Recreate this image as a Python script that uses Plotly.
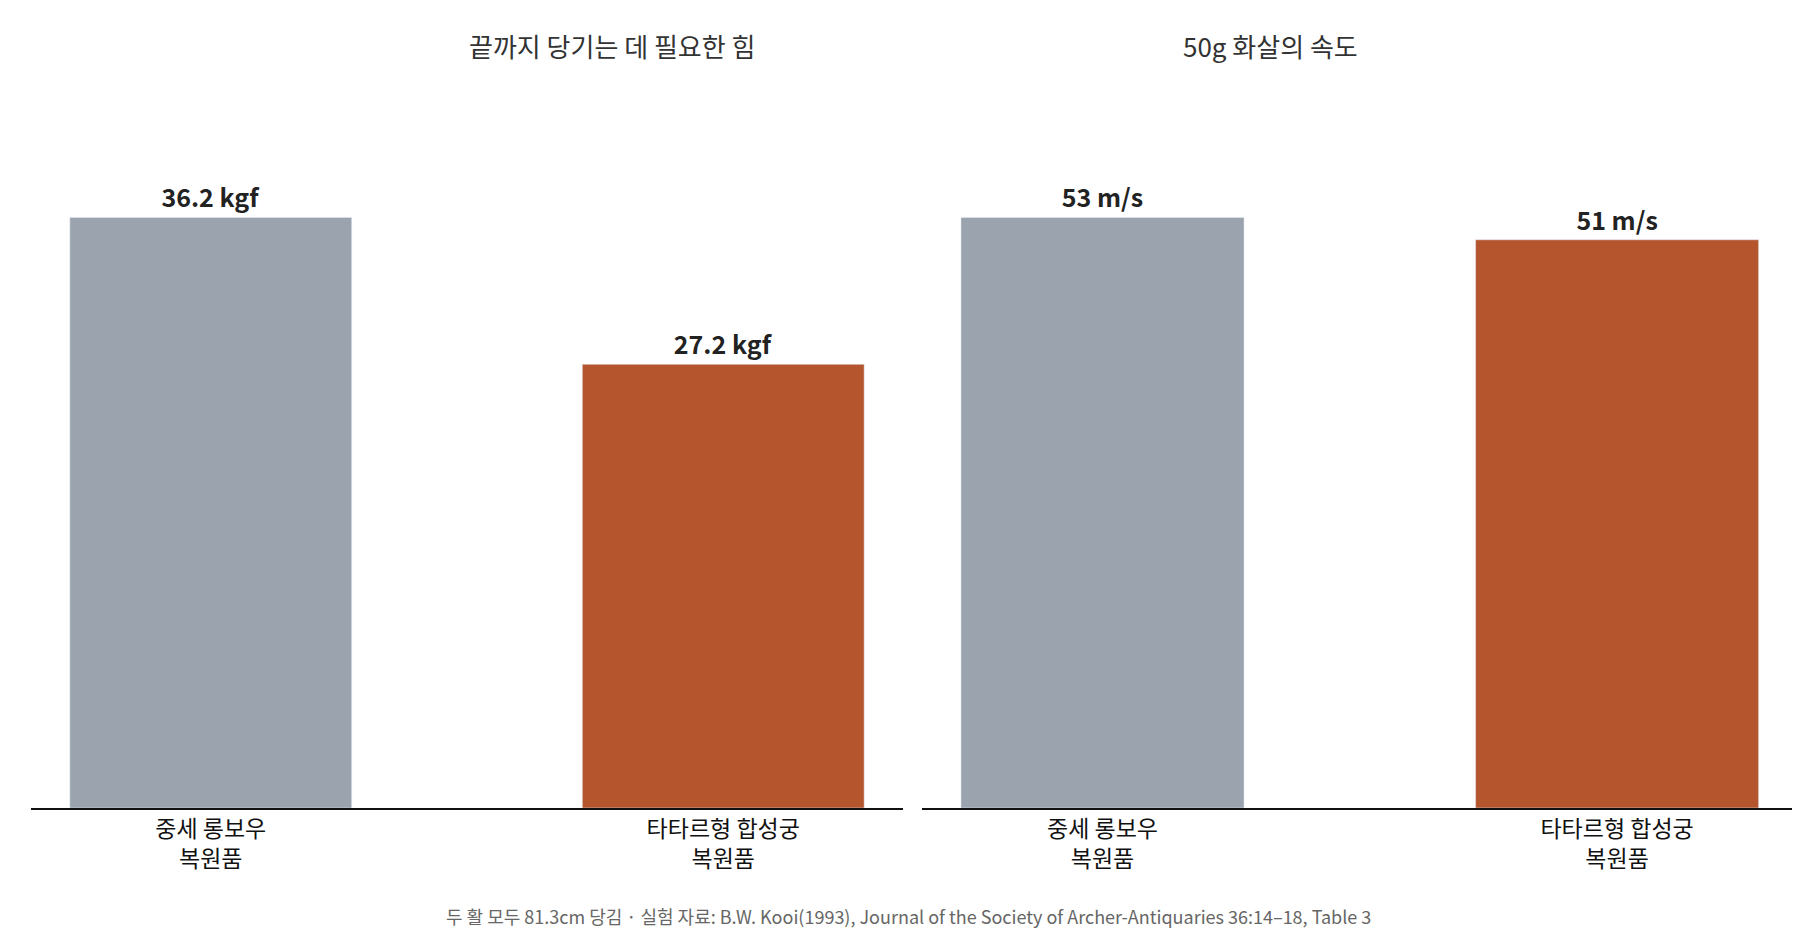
import plotly.graph_objects as go

categories = ["중세 롱보우<br>복원품", "타타르형 합성궁<br>복원품"]
draw_force = [36.2, 27.2]
arrow_speed = [53, 51]
force_labels = ["36.2 kgf", "27.2 kgf"]
speed_labels = ["53 m/s", "51 m/s"]
titles = ["끝까지 당기는 데 필요한 힘", "50g 화살의 속도"]
colors = ["#9AA3AE", "#B5552D"]
footer = "두 활 모두 81.3cm 당김 · 실험 자료: B.W. Kooi(1993), Journal of the Society of Archer-Antiquaries 36:14–18, Table 3"

font = "Noto Sans CJK KR"
fig = go.Figure()

fig.add_trace(go.Bar(x=[0, 1], y=draw_force, width=0.55, marker_color=colors,
                     text=force_labels, textposition="outside", cliponaxis=False,
                     textfont=dict(size=25, color="#222", family=font, weight="bold"),
                     xaxis="x", yaxis="y", hoverinfo="skip"))
fig.add_trace(go.Bar(x=[0, 1], y=arrow_speed, width=0.55, marker_color=colors,
                     text=speed_labels, textposition="outside", cliponaxis=False,
                     textfont=dict(size=25, color="#222", family=font, weight="bold"),
                     xaxis="x2", yaxis="y2", hoverinfo="skip"))

xcommon = dict(range=[-0.35, 1.35], tickvals=[0, 1], ticktext=categories,
               showline=True, linecolor="#111", linewidth=1.5, ticks="",
               showgrid=False, zeroline=False,
               tickfont=dict(size=23, color="#111", family=font))
ycommon = dict(visible=False, showgrid=False, zeroline=False)

fig.update_layout(
    width=1800, height=930, showlegend=False,
    plot_bgcolor="white", paper_bgcolor="white",
    margin=dict(l=0, r=0, t=115, b=130),
    font=dict(family=font),
    xaxis=dict(domain=[0.013, 0.497], **xcommon),
    xaxis2=dict(domain=[0.508, 0.994], **xcommon),
    yaxis=dict(range=[0, max(draw_force) * 1.16], anchor="x", **ycommon),
    yaxis2=dict(range=[0, max(arrow_speed) * 1.16], anchor="x2", **ycommon),
)

for t, xc in zip(titles, [0.255, 0.751]):
    fig.add_annotation(text=t, x=xc, xref="paper", y=1 + (115 - 38) / (930 - 245),
                       yref="paper", yanchor="middle", showarrow=False,
                       font=dict(size=26, color="#333", family=font))

fig.add_annotation(text=footer, x=0.5, xref="paper", y=-(908 - 800) / (930 - 245),
                   yref="paper", yanchor="middle", showarrow=False,
                   font=dict(size=18, color="#666", family=font))

fig.write_html("out.html")
